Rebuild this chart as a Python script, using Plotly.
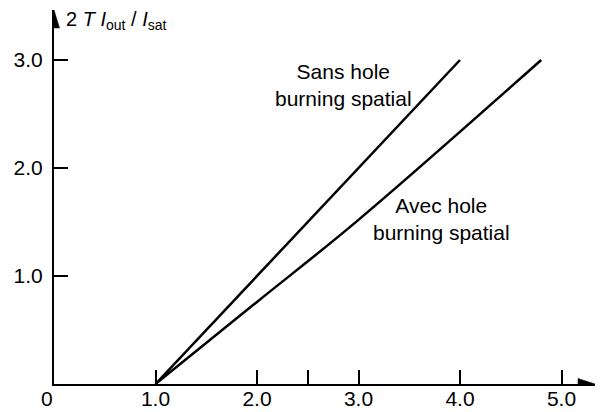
import plotly.graph_objects as go

# Data
x_sans = [1.0, 4.0]
y_sans = [0.0, 3.0]
x_avec = [1.0, 2.0, 3.0, 4.8]
y_avec = [0.0, 0.76, 1.52, 3.0]

x_tickvals = [1.0, 2.0, 3.0, 4.0, 5.0]
x_ticktext = ["1.0", "2.0", "3.0", "4.0", "5.0"]
x_minor_ticks = [2.5]
y_tickvals = [1.0, 2.0, 3.0]
y_ticktext = ["1.0", "2.0", "3.0"]

label_sans = "Sans hole<br>burning spatial"
label_avec = "Avec hole<br>burning spatial"
y_title = "2 <i>T I</i><sub>out</sub> / <i>I</i><sub>sat</sub>"

X_MAX = 5.33
Y_MAX = 3.463
FONT = "Liberation Sans, Arial, sans-serif"

fig = go.Figure()
fig.add_trace(go.Scatter(x=x_sans, y=y_sans, mode="lines",
                         line=dict(color="black", width=2.5), hoverinfo="skip"))
fig.add_trace(go.Scatter(x=x_avec, y=y_avec, mode="lines",
                         line=dict(color="black", width=2.5, shape="spline", smoothing=1.0),
                         hoverinfo="skip"))

fig.update_layout(
    width=603, height=412,
    margin=dict(l=54, r=8, t=10, b=28),
    paper_bgcolor="white", plot_bgcolor="white",
    showlegend=False,
    font=dict(family=FONT, size=21, color="black"),
    xaxis=dict(range=[0, X_MAX], showgrid=False, zeroline=False, automargin=False,
               showline=True, linecolor="black", linewidth=2,
               ticks="inside", ticklen=14, tickwidth=1.5, tickcolor="black",
               tickvals=x_tickvals, ticktext=x_ticktext,
               minor=dict(tickmode="array", tickvals=x_minor_ticks, ticks="inside",
                          ticklen=14, tickwidth=1.5, tickcolor="black", showgrid=False),
               ticklabelstandoff=-5,
               tickfont=dict(family=FONT, size=21, color="black")),
    yaxis=dict(range=[0, Y_MAX], showgrid=False, zeroline=False, automargin=False,
               showline=True, linecolor="black", linewidth=2,
               ticks="inside", ticklen=14, tickwidth=1.5, tickcolor="black",
               tickvals=y_tickvals, ticktext=y_ticktext,
               ticklabelstandoff=5,
               tickfont=dict(family=FONT, size=21, color="black")),
)

# arrowheads (pixel-sized paths anchored at axis ends)
fig.add_shape(type="path", xref="x", yref="y", xsizemode="pixel", ysizemode="pixel",
              xanchor=X_MAX, yanchor=0, path="M 0 0 L -17 5.5 L -17 -5.5 Z",
              fillcolor="black", line=dict(color="black", width=0.5))
fig.add_shape(type="path", xref="x", yref="y", xsizemode="pixel", ysizemode="pixel",
              xanchor=0, yanchor=Y_MAX, path="M 0 0 L -5.5 -18 L 5.5 -18 Z",
              fillcolor="black", line=dict(color="black", width=0.5))

# "0" origin label
fig.add_annotation(x=0, y=0, xref="x", yref="y", text="0", showarrow=False,
                   xanchor="center", yanchor="top", xshift=-7, yshift=-1,
                   font=dict(family=FONT, size=21, color="black"))

# y axis title
fig.add_annotation(x=0, y=Y_MAX, xref="x", yref="y", text=y_title, showarrow=False,
                   xanchor="left", yanchor="middle", xshift=10, yshift=-10,
                   font=dict(family=FONT, size=20, color="black"))

# line labels
fig.add_annotation(x=2.85, y=2.77, xref="x", yref="y", text=label_sans, showarrow=False,
                   xanchor="center", yanchor="middle", align="center",
                   font=dict(family=FONT, size=21, color="black"))
fig.add_annotation(x=3.82, y=1.53, xref="x", yref="y", text=label_avec, showarrow=False,
                   xanchor="center", yanchor="middle", align="center",
                   font=dict(family=FONT, size=21, color="black"))

fig.write_html("out.html")
